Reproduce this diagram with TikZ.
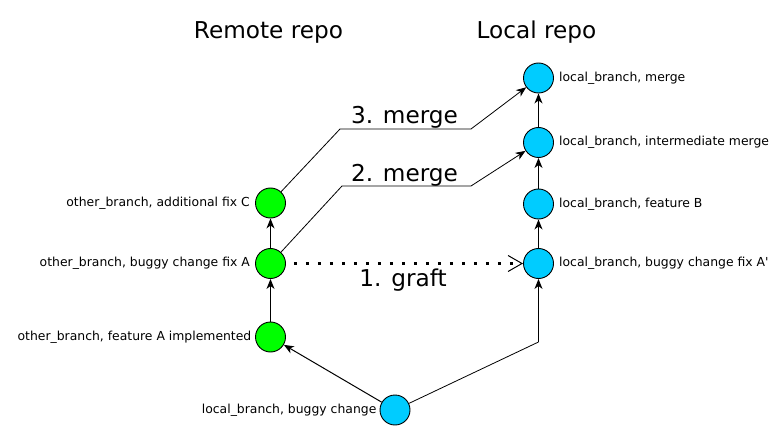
\documentclass[tikz,border=0pt]{standalone}
\usepackage{fontspec}
\setmainfont{DejaVu Sans}[Ligatures=TeXOff]
\usetikzlibrary{arrows.meta}
\definecolor{remotegreen}{HTML}{00FF00}
\definecolor{localblue}{HTML}{00CCFF}
\begin{document}
\begin{tikzpicture}[x=1pt,y=-1pt,
  commit/.style={circle,draw=black,line width=0.9pt,minimum size=30pt,inner sep=0pt},
  rcommit/.style={commit,fill=remotegreen},
  lcommit/.style={commit,fill=localblue},
  lbl/.style={font=\fontsize{12.4}{15}\selectfont,inner sep=0pt},
  title/.style={font=\fontsize{23.2}{27}\selectfont,inner sep=0pt},
  edge/.style={line width=1pt,-{Stealth[length=10pt,width=8pt,inset=3pt]}},
  merge/.style={line width=0.8pt,-{Stealth[length=10pt,width=8pt,inset=3pt]}},
  graft/.style={line width=2.6pt,dash pattern=on 2.6pt off 9.4pt,shorten <=8pt,
    -{Straight Barb[length=14pt,width=16pt,line width=1pt]}}
]
\useasboundingbox (0,0) rectangle (780,441);
% titles
\node[title] (tr) at (268.5,32) {Remote repo};
\node[title] (tl) at (536.5,32) {Local repo};
% remote commits
\node[rcommit] (gF) at (270.5,337) {};
\node[rcommit] (gA) at (270.5,263.5) {};
\node[rcommit] (gC) at (270.5,203) {};
% local commits
\node[lcommit] (bm) at (538.5,78) {};
\node[lcommit] (bi) at (538.5,142.5) {};
\node[lcommit] (bB) at (538.5,204) {};
\node[lcommit] (bA) at (538.5,263.5) {};
\node[lcommit] (b0) at (395,410) {};
% labels
\node[lbl,anchor=east] (lgF) at ([xshift=-3.5pt]gF.west) {other\_branch, feature A implemented};
\node[lbl,anchor=east] (lgA) at ([xshift=-5pt]gA.west) {other\_branch, buggy change fix A};
\node[lbl,anchor=east] (lgC) at ([xshift=-5pt]gC.west) {other\_branch, additional fix C};
\node[lbl,anchor=west] (lbm) at ([xshift=5pt]bm.east) {local\_branch, merge};
\node[lbl,anchor=west] (lbi) at ([xshift=5pt]bi.east) {local\_branch, intermediate merge};
\node[lbl,anchor=west] (lbB) at ([xshift=5pt]bB.east) {local\_branch, feature B};
\node[lbl,anchor=west] (lbA) at ([xshift=5pt]bA.east) {local\_branch, buggy change fix A'};
\node[lbl,anchor=east] (lb0) at ([xshift=-3pt]b0.west) {local\_branch, buggy change};
% chains
\draw[edge] (gF) -- (gA);
\draw[edge] (gA) -- (gC);
\draw[edge] (bA) -- (bB);
\draw[edge] (bB) -- (bi);
\draw[edge] (bi) -- (bm);
\coordinate (c0) at (538.5,342);
\draw[edge] (b0) -- (gF);
\draw[line width=0.8pt] (b0) -- (c0);
\draw[edge] (c0) -- (bA);
% graft
\draw[graft] (gA) -- (bA);
\node[title] (lg) at (403,280) {1. graft};
% merges
\coordinate (m2a) at (342,186);
\coordinate (m2b) at (471,186);
\coordinate (m3a) at (340,129);
\coordinate (m3b) at (471,129);
\draw[line width=0.8pt] (gA) -- (m2a) -- (m2b);
\draw[merge] (m2b) -- (bi);
\draw[line width=0.8pt] (gC) -- (m3a) -- (m3b);
\draw[merge] (m3b) -- (bm);
\node[title,anchor=base] (l2) at (404.5,182) {2. merge};
\node[title,anchor=base] (l3) at (404.5,124) {3. merge};
\end{tikzpicture}
\end{document}
